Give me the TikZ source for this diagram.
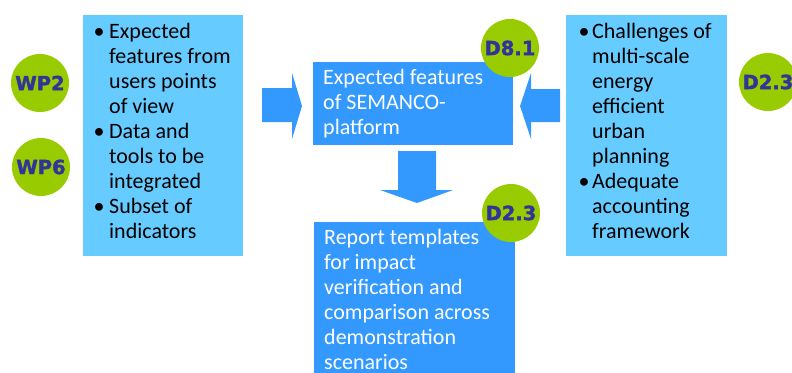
\documentclass[tikz,border=0pt]{standalone}
\usepackage{fontspec}
\setmainfont{Carlito}
\newfontfamily\badgefont[BoldFeatures={FakeBold=1.6}]{DejaVu Sans}
\definecolor{lightbox}{HTML}{66CCFF}
\definecolor{darkbox}{HTML}{3399FF}
\definecolor{badgegreen}{HTML}{99CC00}
\definecolor{badgetext}{HTML}{333399}
\newcommand{\blt}[1]{\makebox[#1][l]{\hspace{-1.5pt}\textbullet}}
\begin{document}
\begin{tikzpicture}[x=1pt,y=-1pt,
  boxbase/.style={rectangle, inner sep=0pt, anchor=north west, draw=none},
  lightpanel/.style={boxbase, fill=lightbox},
  darkpanel/.style={boxbase, fill=darkbox},
  panetext/.style={anchor=north west, inner sep=0pt, align=left, font=\fontsize{22}{25}\selectfont},
  badge/.style={circle, fill=badgegreen, minimum size=58pt, inner sep=0pt, text=badgetext, font=\badgefont\bfseries\fontsize{19.5}{20}\selectfont},
  blockarrow/.style={fill=darkbox, draw=none}
]
\useasboundingbox (0,0) rectangle (792,372);
\clip (0,0) rectangle (792,372);

% panels
\node[lightpanel, minimum width=160pt, minimum height=241pt] (leftbox) at (83,15) {};
\node[lightpanel, minimum width=161pt, minimum height=241pt] (rightbox) at (566,15) {};
\node[darkpanel, minimum width=200pt, minimum height=83pt] (topbox) at (313,62) {};
\node[darkpanel, minimum width=201pt, minimum height=160pt] (botbox) at (314,222) {};

% texts
\node[panetext] (lefttext) at (95,23) {\blt{14pt}Expected\\
\hspace*{14pt}features from\\
\hspace*{14pt}users points\\
\hspace*{14pt}of view\\
\blt{14pt}Data and\\
\hspace*{14pt}tools to be\\
\hspace*{14pt}integrated\\
\blt{14pt}Subset of\\
\hspace*{14pt}indicators};

\node[panetext] (righttext) at (580,23) {\blt{12pt}Challenges of\\
\hspace*{12pt}multi-scale\\
\hspace*{12pt}energy\\
\hspace*{12pt}efficient\\
\hspace*{12pt}urban\\
\hspace*{12pt}planning\\
\blt{12pt}Adequate\\
\hspace*{12pt}accounting\\
\hspace*{12pt}framework};

\node[panetext, text=white] (toptext) at (323,69) {Expected features\\of SEMANCO-\\platform};
\node[panetext, text=white] (bottext) at (324,229) {Report templates\\for impact\\verification and\\comparison across\\demonstration\\scenarios};

% block arrows
\fill[blockarrow] (262,88) -- (292,88) -- (292,73) -- (302,106) -- (292,139) -- (292,122) -- (262,122) -- cycle;
\fill[blockarrow] (560,89) -- (531,89) -- (531,73) -- (520,106) -- (531,139) -- (531,122) -- (560,122) -- cycle;
\fill[blockarrow] (398,151) -- (436,151) -- (436,190) -- (453,190) -- (417,203) -- (380,190) -- (398,190) -- cycle;

% badges
\node[badge] (wp2) at (40,83) {WP2};
\node[badge] (wp6) at (41,167) {WP6};
\node[badge] (d81) at (510,48) {D8.1};
\node[badge] (d23a) at (511,213) {D2.3};
\node[badge] (d23b) at (768,82) {D2.3};
\end{tikzpicture}
\end{document}
